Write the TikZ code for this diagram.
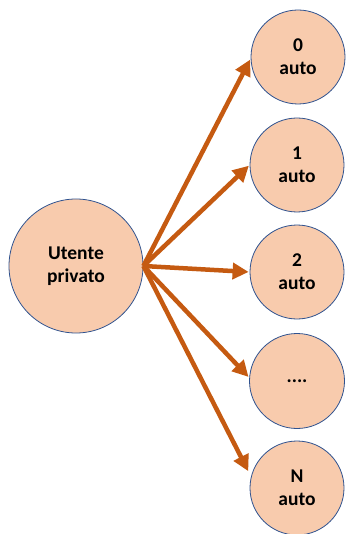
\documentclass[tikz,border=0pt]{standalone}
\usepackage{fontspec}
\setmainfont{Carlito}
\usepackage{tikz}
\usetikzlibrary{arrows.meta, positioning}
\usepackage{xcolor}
\definecolor{peach}{RGB}{248,203,173}
\definecolor{rimblue}{RGB}{47,82,143}
\definecolor{rust}{RGB}{197,90,17}

\begin{document}
\begin{tikzpicture}[x=1pt, y=-1pt,
    bubble/.style={circle, draw=rimblue, line width=0.8pt, fill=peach, inner sep=0pt,
        align=center, font=\fontsize{19.5}{23}\selectfont\bfseries},
    flow/.style={draw=rust, line width=4.5pt, -{Triangle[length=16pt, width=16pt]}, shorten >=1pt}]
    \useasboundingbox (0,0) rectangle (346,534);

    % utente a sinistra
    \node[bubble, minimum size=134pt] (user) at (76,266) {Utente\\privato};
    \coordinate (src) at (user.east);

    % colonna delle auto
    \node[bubble, minimum size=94pt] (c0) at (298,57) {0\\auto};
    \node[bubble, minimum size=94pt] (c1) at (297,165) {1\\auto};
    \node[bubble, minimum size=94pt] (c2) at (297,272) {2\\auto};
    \node[bubble, minimum size=95pt] (c3) at (297,381) {....};
    \node[bubble, minimum size=94pt] (cN) at (297,488) {N\\auto};

    % frecce
    \draw[flow] (src) -- (c0.182);
    \draw[flow] (src) -- (c1.180);
    \draw[flow] (src) -- (c2.180);
    \draw[flow] (src) -- (c3.176);
    \draw[flow, shorten >=6pt] (src) -- (cN.166);
\end{tikzpicture}
\end{document}
